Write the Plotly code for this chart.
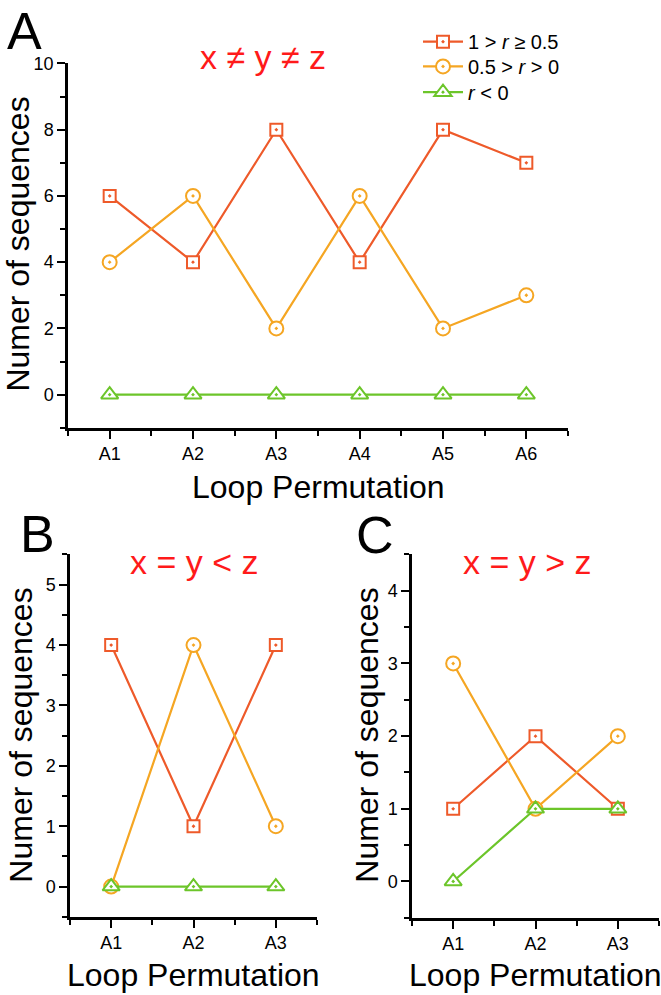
import plotly.graph_objects as go

# ---------------- data ----------------
labels_A = ["A1", "A2", "A3", "A4", "A5", "A6"]
labels_BC = ["A1", "A2", "A3"]
series_names = ["1 &gt; <i>r</i> ≥ 0.5", "0.5 &gt; <i>r</i> &gt; 0", "<i>r</i> &lt; 0"]

A_high = [6, 4, 8, 4, 8, 7]
A_mid = [4, 6, 2, 6, 2, 3]
A_neg = [0, 0, 0, 0, 0, 0]

B_high = [4, 1, 4]
B_mid = [0, 4, 1]
B_neg = [0, 0, 0]

C_high = [1, 2, 1]
C_mid = [3, 1, 2]
C_neg = [0, 1, 1]

panel_titles = ["x ≠ y ≠ z", "x = y &lt; z", "x = y &gt; z"]

# ---------------- style ----------------
FONT = "Liberation Sans, Arial, Helvetica, sans-serif"
colors = ["#EE5A2A", "#F5A623", "#6CC52A"]
symbols = ["square-dot", "circle-dot", "triangle-up-dot"]
sizes = [12, 14, 15]

W, H = 661, 995


def px_x(p):
    return p / W


def px_y(p):
    return 1 - p / H


fig = go.Figure()

panels = [
    ("x", "y", labels_A, [A_high, A_mid, A_neg], True),
    ("x2", "y2", labels_BC, [B_high, B_mid, B_neg], False),
    ("x3", "y3", labels_BC, [C_high, C_mid, C_neg], False),
]
legend_ids = ["legend", "legend2", "legend3"]

for xa, ya, labs, sers, show in panels:
    xs = list(range(1, len(labs) + 1))
    for i, vals in enumerate(sers):
        fig.add_trace(go.Scatter(
            x=xs, y=vals, xaxis=xa, yaxis=ya,
            mode="lines+markers",
            name=series_names[i],
            showlegend=show,
            legend=legend_ids[i],
            line=dict(color=colors[i], width=2.2),
            marker=dict(symbol=symbols[i], size=sizes[i], color="white",
                        line=dict(color=colors[i], width=2)),
        ))

axis_common = dict(
    showline=True, linecolor="black", linewidth=2.5,
    ticks="outside", ticklen=8, tickwidth=2, tickcolor="black",
    showgrid=False, zeroline=False, mirror=False,
    tickfont=dict(family=FONT, size=18, color="black"),
)


def xaxis(domain, labs, anchor):
    return dict(
        domain=domain, anchor=anchor, range=[0.5, len(labs) + 0.5],
        tickmode="array", tickvals=list(range(1, len(labs) + 1)), ticktext=labs,
        minor=dict(tickvals=[k + 0.5 for k in range(0, len(labs) + 1)],
                   ticklen=5, tickwidth=2, tickcolor="black", ticks="outside"),
        **axis_common,
    )


def yaxis(domain, rng, dtick, anchor):
    return dict(
        domain=domain, anchor=anchor, range=rng,
        tickmode="linear", tick0=0, dtick=dtick,
        minor=dict(tick0=rng[0], dtick=dtick / 2, ticklen=5, tickwidth=2,
                   tickcolor="black", ticks="outside"),
        **axis_common,
    )


def legend_at(cy):
    return dict(
        x=px_x(418), y=px_y(cy), xanchor="left", yanchor="middle",
        font=dict(family=FONT, size=20, color="black"),
        bgcolor="rgba(0,0,0,0)", borderwidth=0, itemwidth=40,
    )


fig.update_layout(
    width=W, height=H,
    margin=dict(l=0, r=0, t=0, b=0),
    paper_bgcolor="white", plot_bgcolor="white",
    font=dict(family=FONT, color="black"),
    xaxis=xaxis([px_x(68), px_x(568)], labels_A, "y"),
    yaxis=yaxis([px_y(422), px_y(54)], [-1, 10], 2, "x"),
    xaxis2=xaxis([px_x(70), px_x(317)], labels_BC, "y2"),
    yaxis2=yaxis([px_y(916), px_y(550)], [-0.5, 5.5], 1, "x2"),
    xaxis3=xaxis([px_x(412), px_x(659)], labels_BC, "y3"),
    yaxis3=yaxis([px_y(917), px_y(550)], [-0.5, 4.5], 1, "x3"),
    legend=legend_at(32),
    legend2=legend_at(57),
    legend3=legend_at(83),
)

annos = []
# panel letters
for txt, cx, cy in [("A", 24, 21), ("B", 37, 529), ("C", 375, 530)]:
    annos.append(dict(text=txt, x=px_x(cx), y=px_y(cy), xref="paper", yref="paper",
                      showarrow=False, xanchor="center", yanchor="middle",
                      font=dict(family=FONT, size=52, color="black")))
# panel titles
for txt, cx, cy in [(panel_titles[0], 263, 47), (panel_titles[1], 194, 558), (panel_titles[2], 527, 558)]:
    annos.append(dict(text=txt, x=px_x(cx), y=px_y(cy), xref="paper", yref="paper",
                      showarrow=False, xanchor="center", yanchor="middle",
                      font=dict(family=FONT, size=34, color="#FF1A1A")))
# x-axis titles
for cx, cy in [(318, 482), (193, 975), (535, 975)]:
    annos.append(dict(text="Loop Permutation", x=px_x(cx), y=px_y(cy), xref="paper", yref="paper",
                      showarrow=False, xanchor="center", yanchor="middle",
                      font=dict(family=FONT, size=32, color="black")))
# y-axis titles
for cx, cy in [(18, 237), (21, 733), (367, 733)]:
    annos.append(dict(text="Numer of sequences", x=px_x(cx), y=px_y(cy), xref="paper", yref="paper",
                      showarrow=False, xanchor="center", yanchor="middle", textangle=-90,
                      font=dict(family=FONT, size=32, color="black")))

fig.update_layout(annotations=annos)

# remove the default 8px page margin so the figure fills the window exactly
fig.write_html("out.html",
               config={"displayModeBar": False},
               post_script="document.body.style.margin='0px';"
                           "document.documentElement.style.overflow='hidden';")
